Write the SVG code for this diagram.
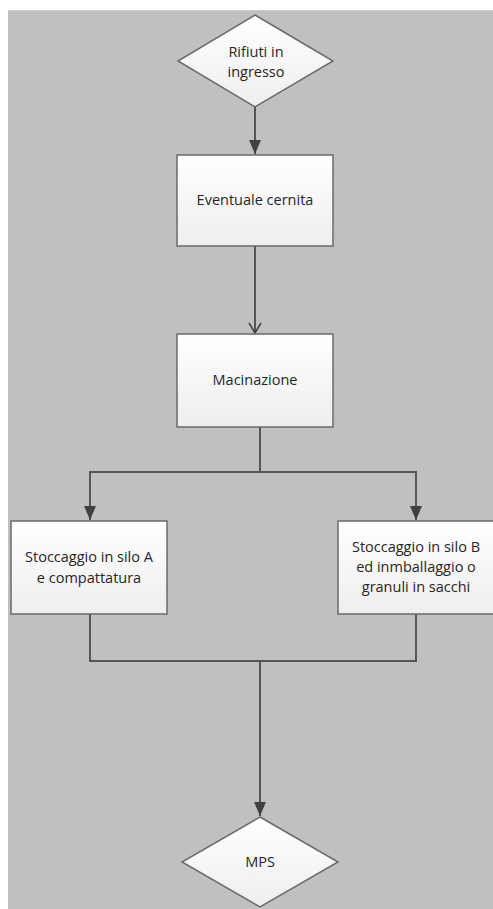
<svg xmlns="http://www.w3.org/2000/svg" width="493" height="909" viewBox="0 0 493 909">
<defs>
<linearGradient id="g" x1="0" y1="0" x2="0" y2="1">
<stop offset="0" stop-color="#ffffff"/>
<stop offset="1" stop-color="#eeeeee"/>
</linearGradient>
<marker id="af" viewBox="0 0 14 12" refX="14" refY="6" markerWidth="14" markerHeight="12" markerUnits="userSpaceOnUse" orient="auto">
<path d="M0,0 L14,6 L0,12 Z" fill="#404040"/>
</marker>
<marker id="ao" viewBox="0 0 12 14" refX="11" refY="7" markerWidth="12" markerHeight="14" markerUnits="userSpaceOnUse" orient="auto">
<path d="M1,1 L11,7 L1,13" fill="none" stroke="#404040" stroke-width="1.5"/>
</marker>
</defs>
<style>
.node{fill:url(#g);stroke:#6a6a6a;stroke-width:1.5}
.t{font-family:"Open Sans","Liberation Sans",sans-serif;font-size:14.5px;fill:#262626;text-anchor:middle}
.c{fill:none;stroke:#555;stroke-width:2}
</style>
<rect x="0" y="0" width="493" height="909" fill="#ffffff"/>
<rect x="8" y="10" width="485" height="899" fill="#c0c0c0"/>
<line x1="8" y1="10.5" x2="493" y2="10.5" stroke="#d0d0d0" stroke-width="1"/>
<g id="connectors">
<path class="c" d="M255,107 V154" marker-end="url(#af)"/>
<path class="c" d="M255,246 V333" marker-end="url(#ao)"/>
<path class="c" d="M260,427 V472 H90 V520" marker-end="url(#af)"/>
<path class="c" d="M260,472 H416 V520" marker-end="url(#af)"/>
<path class="c" d="M90,614 V661 H416 V614"/>
<path class="c" d="M260,661 V816" marker-end="url(#af)"/>
</g>
<g id="n1">
<polygon class="node" points="255,15 333,61 255,107 178,61"/>
<text class="t" x="256" y="57">Rifiuti in</text>
<text class="t" x="256" y="77">ingresso</text>
</g>
<g id="n2">
<rect class="node" x="177" y="155" width="156" height="91"/>
<text class="t" x="255" y="205">Eventuale cernita</text>
</g>
<g id="n3">
<rect class="node" x="177" y="334" width="156" height="93"/>
<text class="t" x="255" y="385">Macinazione</text>
</g>
<g id="n4">
<rect class="node" x="11" y="521" width="156" height="93"/>
<text class="t" x="89" y="562">Stoccaggio in silo A</text>
<text class="t" x="89" y="583">e compattatura</text>
</g>
<g id="n5">
<rect class="node" x="338" y="521" width="160" height="93"/>
<text class="t" x="416" y="552">Stoccaggio in silo B</text>
<text class="t" x="416" y="572">ed inmballaggio o</text>
<text class="t" x="416" y="592">granuli in sacchi</text>
</g>
<g id="n6">
<polygon class="node" points="260,817 338,862 260,907 182,862"/>
<text class="t" x="260" y="867">MPS</text>
</g>
</svg>
